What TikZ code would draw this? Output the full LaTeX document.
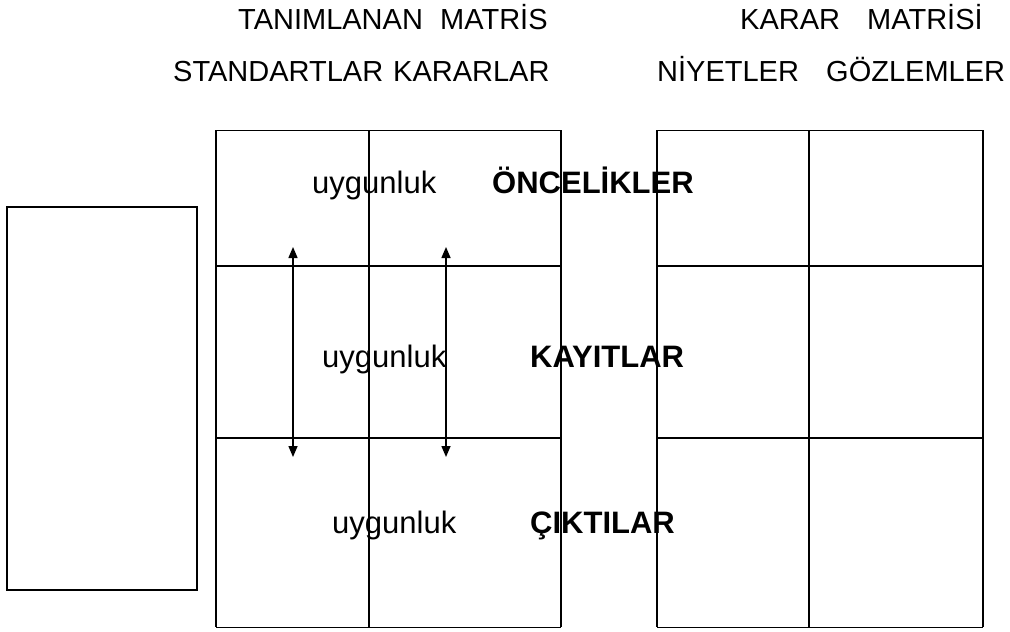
\documentclass[tikz,border=0pt]{standalone}
\usepackage{fontspec}
\setmainfont{Liberation Sans}
\usetikzlibrary{arrows.meta}

\begin{document}
\begin{tikzpicture}[x=1pt,y=-1pt,
  heading/.style={anchor=base west, inner sep=0pt, font=\fontsize{29}{34}\selectfont},
  fitword/.style={anchor=base west, inner sep=0pt, font=\fontsize{31}{36}\selectfont},
  rowname/.style={anchor=base west, inner sep=0pt, font=\fontsize{31}{36}\selectfont\bfseries},
  gridline/.style={line width=1.7pt},
  rimline/.style={line width=1pt},
  link/.style={line width=1.5pt, {Triangle[length=11pt,width=9pt]}-{Triangle[length=11pt,width=9pt]}}
]
\useasboundingbox (0,0) rectangle (1010,632);

% column headings
\node[heading] (h1a) at (238,29) {TANIMLANAN};
\node[heading] (h1b) at (440,29) {MATRİS};
\node[heading] (h2a) at (173,81) {STANDARTLAR};
\node[heading] (h2b) at (393,81) {KARARLAR};
\node[heading] (h3a) at (740,29) {KARAR};
\node[heading] (h3b) at (867,29) {MATRİSİ};
\node[heading] (h4a) at (657,81) {NİYETLER};
\node[heading] (h4b) at (826,81) {GÖZLEMLER};

% standalone box on the left
\node[draw, gridline, minimum width=190pt, minimum height=383pt,
      inner sep=0pt, outer sep=0pt] (side) at (102,398.5) {};

% defined matrix (left) and decision matrix (right)
\foreach \x in {216,369,561,657,809,983}
  \draw[gridline] (\x,130) -- (\x,627);
\foreach \y in {266,438}{
  \draw[gridline] (216,\y) -- (561,\y);
  \draw[gridline] (657,\y) -- (983,\y);
}
\foreach \y in {130,627}{
  \draw[rimline] (216,\y) -- (561,\y);
  \draw[rimline] (657,\y) -- (983,\y);
}

% row texts
\node[fitword] (u1) at (312,193) {uygunluk};
\node[rowname] (r1) at (492,193) {ÖNCELİKLER};
\node[fitword] (u2) at (322,367) {uygunluk};
\node[rowname] (r2) at (530,367) {KAYITLAR};
\node[fitword] (u3) at (332,533) {uygunluk};
\node[rowname] (r3) at (530,533) {ÇIKTILAR};

% two-way arrows across the middle row
\coordinate (a1t) at (293,247);
\coordinate (a1b) at (293,457);
\coordinate (a2t) at (446,247);
\coordinate (a2b) at (446,457);
\draw[link] (a1t) -- (a1b);
\draw[link] (a2t) -- (a2b);
\end{tikzpicture}
\end{document}
